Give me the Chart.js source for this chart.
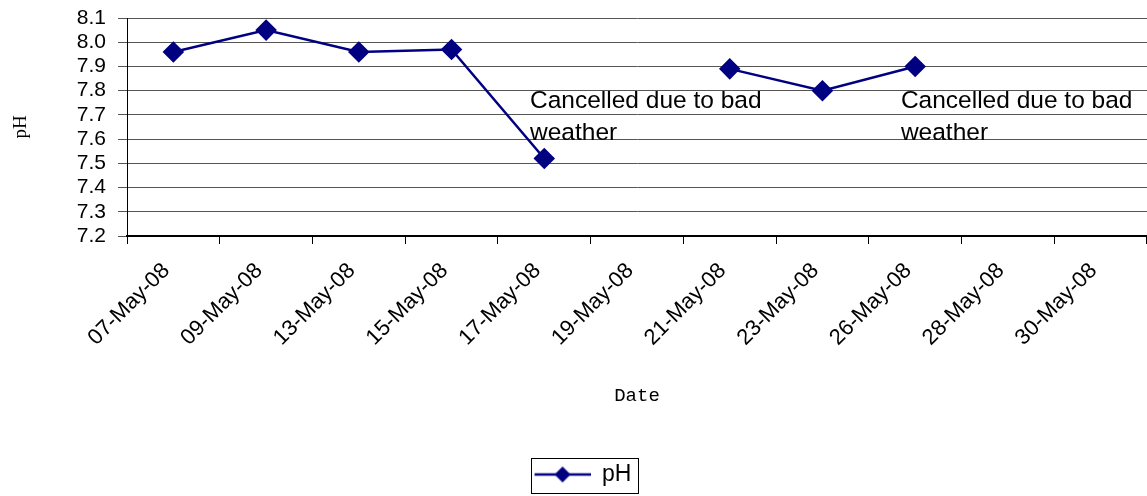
<!DOCTYPE html>
<html>
<head>
<meta charset="utf-8">
<script src="https://cdn.jsdelivr.net/npm/chart.js@4.4.1/dist/chart.umd.min.js"></script>
<style>
    html, body { margin: 0; padding: 0; background: #fff; }
    #wrap { width: 1147px; height: 496px; }
</style>
</head>
<body>
<div id="wrap"><canvas id="chart1"></canvas></div>
<script>
// Chart data
const dates = ['07-May-08', '09-May-08', '13-May-08', '15-May-08', '17-May-08', '19-May-08',
    '21-May-08', '23-May-08', '26-May-08', '28-May-08', '30-May-08'];
const phValues = [7.96, 8.05, 7.96, 7.97, 7.52, null, 7.89, 7.80, 7.90, null, null];
const yTicks = [7.2, 7.3, 7.4, 7.5, 7.6, 7.7, 7.8, 7.9, 8.0, 8.1];
const noteDates = ['19-May-08', '28-May-08'];
const noteText = ['Cancelled due to bad', 'weather'];

const navy = '#000080';

// legend symbol: line with a diamond in the middle (left part kept empty)
function makeLegendIcon() {
    const c = document.createElement('canvas');
    c.width = 72;
    c.height = 18;
    const g = c.getContext('2d');
    g.strokeStyle = navy;
    g.lineWidth = 2.5;
    g.beginPath();
    g.moveTo(16, 9);
    g.lineTo(72, 9);
    g.stroke();
    g.fillStyle = navy;
    g.beginPath();
    g.moveTo(44, 1);
    g.lineTo(52, 9);
    g.lineTo(44, 17);
    g.lineTo(36, 9);
    g.closePath();
    g.fill();
    return c;
}

// draws the "cancelled" notes and the box round the legend
const extrasPlugin = {
    id: 'extras',
    afterDraw(chart) {
        const ctx = chart.ctx;
        const x = chart.scales.x;
        const y = chart.scales.y;
        ctx.save();
        ctx.fillStyle = '#000';
        ctx.font = '24.5px "Liberation Sans", Arial, sans-serif';
        ctx.textAlign = 'left';
        ctx.textBaseline = 'alphabetic';
        noteDates.forEach((d) => {
            const px = x.getPixelForValue(dates.indexOf(d)) - 107;
            noteText.forEach((line, j) => {
                ctx.fillText(line, px, y.top + 90 + j * 32);
            });
        });

        const hb = chart.legend.legendHitBoxes[0];
        if (hb) {
            ctx.strokeStyle = '#000';
            ctx.lineWidth = 1;
            const l = Math.round(hb.left + 12) + 0.5;
            const r = Math.round(hb.left + hb.width + 7) + 0.5;
            const t = Math.round(hb.top - 5) + 0.5;
            ctx.strokeRect(l, t, r - l, 35);
        }
        ctx.restore();
    }
};

document.addEventListener('DOMContentLoaded', function () {
    const ctx = document.getElementById('chart1').getContext('2d');
    new Chart(ctx, {
        type: 'line',
        data: {
            labels: dates,
            datasets: [{
                label: 'pH',
                data: phValues,
                borderColor: navy,
                backgroundColor: navy,
                borderWidth: 2.5,
                pointStyle: 'rectRot',
                pointRadius: 9,
                pointHoverRadius: 9,
                spanGaps: false,
                tension: 0
            }]
        },
        options: {
            responsive: true,
            maintainAspectRatio: false,
            animation: false,
            layout: { autoPadding: false, padding: { top: 18, right: -3, bottom: 0, left: 0 } },
            plugins: {
                tooltip: { enabled: false },
                legend: {
                    position: 'bottom',
                    labels: {
                        usePointStyle: true,
                        pointStyle: makeLegendIcon(),
                        pointStyleWidth: 72,
                        padding: 1,
                        color: '#000',
                        font: { family: '"Liberation Sans", Arial, sans-serif', size: 23 }
                    }
                }
            },
            scales: {
                x: {
                    offset: true,
                    grid: {
                        display: true,
                        offset: true,
                        drawOnChartArea: false,
                        drawTicks: true,
                        tickLength: 8,
                        color: '#000'
                    },
                    border: { display: true, color: '#000', width: 2 },
                    ticks: {
                        autoSkip: false,
                        minRotation: 45,
                        maxRotation: 45,
                        padding: 14,
                        labelOffset: -7,
                        color: '#000',
                        font: { family: '"Liberation Sans", Arial, sans-serif', size: 22 }
                    },
                    title: {
                        display: true,
                        text: 'Date',
                        color: '#000',
                        padding: { top: 0, bottom: 55 },
                        font: { family: '"Liberation Mono", "DejaVu Sans Mono", monospace', size: 19 }
                    },
                    afterFit(scale) {
                        scale.height = 226;
                        scale.paddingLeft = 0;
                        scale.paddingRight = 0;
                    }
                },
                y: {
                    min: 7.2,
                    max: 8.1,
                    afterBuildTicks(scale) {
                        scale.ticks = yTicks.map(v => ({ value: v }));
                    },
                    grid: {
                        color: '#555',
                        tickLength: 9,
                        drawTicks: true
                    },
                    border: { display: true, color: '#000', width: 1 },
                    ticks: {
                        autoSkip: false,
                        padding: 12,
                        color: '#000',
                        font: { family: '"Liberation Sans", Arial, sans-serif', size: 21 },
                        callback: v => Number(v).toFixed(1)
                    },
                    title: {
                        display: true,
                        text: 'pH',
                        color: '#000',
                        padding: { top: 10, bottom: 10 },
                        font: { family: '"Liberation Serif", "DejaVu Serif", serif', size: 19 }
                    },
                    afterFit(scale) {
                        scale.width = 127;
                        scale.paddingTop = 0;
                        scale.paddingBottom = 0;
                    }
                }
            }
        },
        plugins: [extrasPlugin]
    });
});
</script>
</body>
</html>
